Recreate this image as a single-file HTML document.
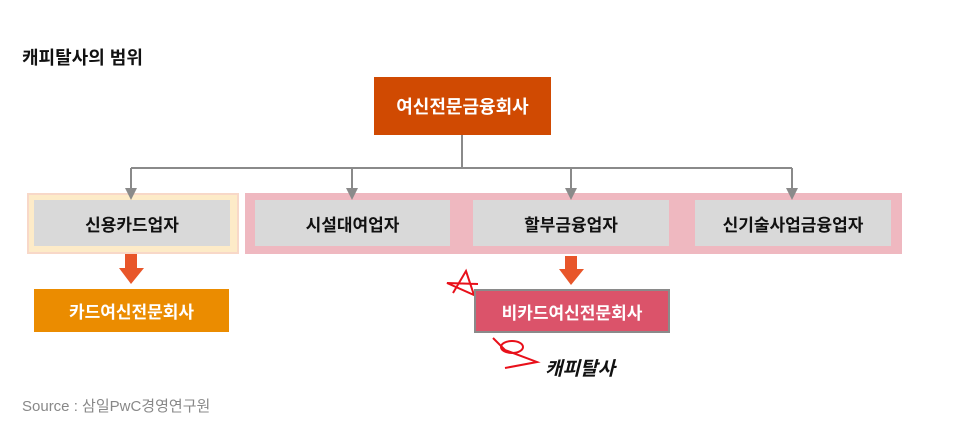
<!DOCTYPE html>
<html><head><meta charset="utf-8"><style>
body{margin:0;width:965px;height:426px;background:#fff;position:relative;overflow:hidden;font-family:"Liberation Sans","Noto Sans CJK KR",sans-serif}
.a{position:absolute;box-sizing:border-box;display:flex;align-items:center;justify-content:center}
.g{background:#d9d9d9;color:#111;font-size:17px;font-weight:bold}
</style></head><body>
<div class="a" style="left:22px;top:44px;font-size:18px;font-weight:bold;color:#111;justify-content:flex-start">캐피탈사의 범위</div>
<div class="a" style="left:374px;top:77px;width:177px;height:58px;background:#d04a02;color:#fff;font-size:18px;font-weight:bold">여신전문금융회사</div>
<div class="a" style="left:27px;top:193px;width:212px;height:61px;background:#fdebc8;border:2px solid #f8d8c8"></div>
<div class="a" style="left:245px;top:193px;width:657px;height:61px;background:#efb8c0"></div>
<div class="a g" style="left:34px;top:200px;width:196px;height:46px">신용카드업자</div>
<div class="a g" style="left:255px;top:200px;width:195px;height:46px">시설대여업자</div>
<div class="a g" style="left:473px;top:200px;width:196px;height:46px">할부금융업자</div>
<div class="a g" style="left:695px;top:200px;width:196px;height:46px">신기술사업금융업자</div>
<svg width="965" height="426" style="position:absolute;left:0;top:0">
<g stroke="#8a8a8a" stroke-width="2" fill="none">
<line x1="462" y1="135" x2="462" y2="168"/>
<line x1="131" y1="168" x2="792" y2="168"/>
<line x1="131" y1="168" x2="131" y2="190"/>
<line x1="352" y1="168" x2="352" y2="190"/>
<line x1="571" y1="168" x2="571" y2="190"/>
<line x1="792" y1="168" x2="792" y2="190"/>
</g>
<g fill="#8a8a8a">
<polygon points="125,188 137,188 131,200"/>
<polygon points="346,188 358,188 352,200"/>
<polygon points="565,188 577,188 571,200"/>
<polygon points="786,188 798,188 792,200"/>
</g>
<g fill="#e8562a">
<rect x="125" y="254" width="12" height="15"/><polygon points="119,268 144,268 131,284"/>
<rect x="565" y="256" width="12" height="14"/><polygon points="559,269 584,269 571,285"/>
</g>
<g stroke="#e8101a" stroke-width="2" fill="none">
<polyline points="453,293 466,271 474,295 447,283 478,284"/>
<ellipse cx="512" cy="347" rx="11" ry="6"/>
<polyline points="493,338 505,350 537,362 505,368"/>
</g>
</svg>
<div class="a" style="left:34px;top:289px;width:195px;height:43px;background:#eb8c00;color:#fff;font-size:17px;font-weight:bold">카드여신전문회사</div>
<div class="a" style="left:474px;top:289px;width:196px;height:44px;background:#db536a;border:2px solid #8a8a8a;color:#fff;font-size:17px;font-weight:bold">비카드여신전문회사</div>
<div class="a" style="left:545px;top:354px;font-size:19px;font-weight:bold;font-style:italic;color:#111">캐피탈사</div>
<div class="a" style="left:22px;top:395px;font-size:15px;color:#888">Source : 삼일PwC경영연구원</div>
</body></html>
